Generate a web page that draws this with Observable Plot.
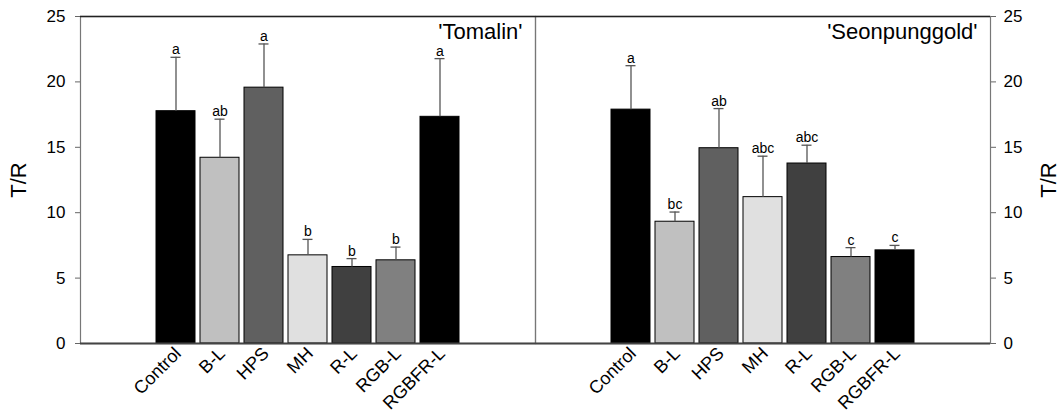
<!DOCTYPE html>
<html><head><meta charset="utf-8">
<script src="https://cdn.jsdelivr.net/npm/d3@7"></script>
<script src="https://cdn.jsdelivr.net/npm/@observablehq/plot@0.6"></script>
<style>body{margin:0;background:#fff} #chart svg{display:block}</style>
</head><body><div id="chart"></div>
<script>
const treatments = ["Control", "B-L", "HPS", "MH", "R-L", "RGB-L", "RGBFR-L"];
const cultivars = ["'Tomalin'", "'Seonpunggold'"];
const tomalinMean = [17.76, 14.2, 19.56, 6.74, 5.85, 6.36, 17.33];
const tomalinSE = [4.12, 2.95, 3.34, 1.22, 0.64, 1.01, 4.45];
const tomalinLetters = ["a", "ab", "a", "b", "b", "b", "a"];
const seonMean = [17.88, 9.31, 14.93, 11.19, 13.76, 6.61, 7.12];
const seonSE = [3.36, 0.74, 3.03, 3.13, 1.4, 0.72, 0.38];
const seonLetters = ["a", "bc", "ab", "abc", "abc", "c", "c"];
const yTicks = [0, 5, 10, 15, 20, 25];
const fills = ["#000000", "#c0c0c0", "#606060", "#e0e0e0", "#404040", "#808080", "#000000"];

const rows = [];
treatments.forEach((t, i) => rows.push({cultivar: cultivars[0], treatment: t, mean: tomalinMean[i], top: tomalinMean[i] + tomalinSE[i], letter: tomalinLetters[i]}));
treatments.forEach((t, i) => rows.push({cultivar: cultivars[1], treatment: t, mean: seonMean[i], top: seonMean[i] + seonSE[i], letter: seonLetters[i]}));

const chart = Plot.plot({
  width: 1060,
  height: 413,
  marginTop: 16,
  marginBottom: 70,
  marginLeft: 80,
  marginRight: 70,
  style: {fontFamily: "'Liberation Sans', Arial, sans-serif", color: "#000", background: "#fff"},
  fx: {domain: cultivars, padding: 0, axis: null},
  x: {domain: treatments, paddingInner: 0.124, paddingOuter: 1.67, label: null},
  y: {domain: [0, 25], label: null},
  color: {domain: treatments, range: fills},
  marks: [
    Plot.frame({stroke: "#777", strokeWidth: 1.2}),
    Plot.barY(rows, {fx: "cultivar", x: "treatment", y: "mean", fill: "treatment", stroke: "#000", strokeWidth: 1}),
    Plot.ruleX(rows, {fx: "cultivar", x: "treatment", y1: "mean", y2: "top", stroke: "#555", strokeWidth: 1.3}),
    Plot.tickY(rows, {fx: "cultivar", x: "treatment", y: "top", stroke: "#555", strokeWidth: 1.3, insetLeft: 14.5, insetRight: 14.5}),
    Plot.text(rows, {fx: "cultivar", x: "treatment", y: "top", text: "letter", lineAnchor: "bottom", dy: -3, fontSize: 14, fill: "#000"}),
    Plot.ruleY([25], {stroke: "#222", strokeWidth: 1.3}),
    Plot.ruleY([0], {stroke: "#444", strokeWidth: 1.8}),
    Plot.text(cultivars, {fx: d => d, text: d => d, frameAnchor: "top-right", dx: -13, dy: 7, fontSize: 22, fill: "#000"}),
    Plot.text([cultivars[0]], {fx: d => d, text: () => "T/R", frameAnchor: "left", textAnchor: "middle", dx: -62, rotate: -90, fontSize: 22, fill: "#000"}),
    Plot.text([cultivars[1]], {fx: d => d, text: () => "T/R", frameAnchor: "right", textAnchor: "middle", dx: 58, rotate: -90, fontSize: 22, fill: "#000"}),
    Plot.axisY({anchor: "left", ticks: yTicks, tickSize: 5, tickPadding: 10, fontSize: 17, stroke: "#666", label: null}),
    Plot.axisY({anchor: "right", ticks: yTicks, tickSize: 5, tickPadding: 8, fontSize: 17, stroke: "#666", label: null}),
    Plot.axisX({tickRotate: -45, tickSize: 0, tickPadding: 7, fontSize: 18, label: null, dx: 2})
  ]
});
document.getElementById("chart").appendChild(chart);
</script>
</body></html>
